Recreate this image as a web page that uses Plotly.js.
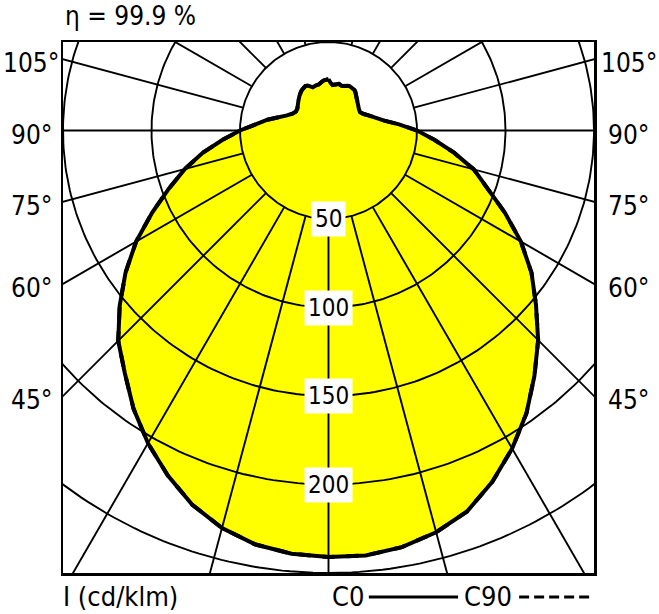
<!DOCTYPE html>
<html><head><meta charset="utf-8">
<script src="https://cdn.plot.ly/plotly-3.0.1.min.js"></script>
<style>html,body{margin:0;padding:0;background:#fff;}</style>
</head><body>
<div id="chart" style="width:659px;height:614px"></div>
<script>
// gamma angles (deg from nadir)
const gammaDeg = [0,5,10,15,20,25,30,35,40,45,50,55,60,65,70,75,80,85,90,95,100,105,110,115,120,125,130,135,140,
  142.5,145,147.5,150,152.5,155,157.5,160,162.5,165,167.5,170,172.5,175,177.5,180];
// C0 half-plane (right side), cd/klm
const c0Values = [241,241,239,235,229,219,207.5,195,181,167.5,153,140,125.5,110,96,85,72,60,50,40,32,28,24.5,22,20.6,21,22,23,24.5,
  25.5,26.5,27.2,27.5,27.6,27.8,27.3,26.6,26.3,26.5,27,26.5,25.8,25.8,27,29];
// C180 half-plane (left side)
const c180Values = [241,240,237.5,232.5,225,215,204,192,179,168,154,140,125.5,110,96,84,72,60,50,41,35,29,25,22.5,21.3,21.5,22.5,24,25.5,
  26.5,27,27.5,28,28.3,28,27,26,26.3,26.5,26.5,27,27.8,28.5,28.8,29];
// C90 / C270 planes (coincide with C0 / C180 for this luminaire)
const c90Values = c0Values;
const c270Values = c180Values;

const ringValues = [50,100,150,200,250];
const ringLabels = ['50','100','150','200'];
const spokeAngles = [0,15,30,45,60,75,90,105,120,135,150,165,180];
const angleLabels = [45,60,75,90,105];
const efficiencyText = 'η = 99.9 %';
const unitText = 'I (cd/klm)';

const rad = d => d*Math.PI/180;
function profile(rightVals, leftVals){
  const xs=[], ys=[];
  for(let i=gammaDeg.length-1;i>=0;i--){ xs.push(-leftVals[i]*Math.sin(rad(gammaDeg[i]))); ys.push(-leftVals[i]*Math.cos(rad(gammaDeg[i]))); }
  for(let i=0;i<gammaDeg.length;i++){ xs.push(rightVals[i]*Math.sin(rad(gammaDeg[i]))); ys.push(-rightVals[i]*Math.cos(rad(gammaDeg[i]))); }
  return {xs, ys};
}
const traces = [];
const p0 = profile(c0Values, c180Values);
const p90 = profile(c90Values, c270Values);
traces.push({type:'scatter', mode:'lines', x:p0.xs, y:p0.ys, fill:'toself', fillcolor:'#ffff00', line:{width:0, color:'rgba(0,0,0,0)'}, hoverinfo:'skip', showlegend:false});
// rings
const gridLine = {color:'#000', width:1.9};
ringValues.forEach(r=>{
  const xs=[], ys=[];
  for(let a=0;a<=360;a+=1){ xs.push(r*Math.sin(rad(a))); ys.push(-r*Math.cos(rad(a))); }
  traces.push({type:'scatter', mode:'lines', x:xs, y:ys, line:gridLine, hoverinfo:'skip', showlegend:false});
});
// spokes
const inner = ringValues[0], outer = 500;
spokeAngles.forEach(g=>{
  [1,-1].forEach(s=>{
    if((g===0||g===180) && s===-1) return;
    traces.push({type:'scatter', mode:'lines',
      x:[s*inner*Math.sin(rad(g)), s*outer*Math.sin(rad(g))],
      y:[-inner*Math.cos(rad(g)), -outer*Math.cos(rad(g))],
      line:gridLine, hoverinfo:'skip', showlegend:false});
  });
});
traces.push({type:'scatter', mode:'lines', x:p90.xs, y:p90.ys, line:{color:'#000', width:4, dash:'dash'}, name:'C90', showlegend:false, hoverinfo:'skip'});
traces.push({type:'scatter', mode:'lines', x:p0.xs, y:p0.ys, line:{color:'#000', width:4}, name:'C0', showlegend:false, hoverinfo:'skip'});

const FONT = '"DejaVu Sans Condensed", "Liberation Sans Narrow", Arial, sans-serif';
const annotations = [];
ringLabels.forEach((t,i)=>{
  annotations.push({x:0, y:-ringValues[i], xref:'x', yref:'y', text:t, showarrow:false,
    font:{family:FONT, size:24, color:'#000'}, bgcolor:'#fff', borderpad:3, xanchor:'center', yanchor:'middle'});
});
angleLabels.forEach(g=>{
  const yv = (g===90) ? 0 : -150/Math.tan(rad(g));
  [-0.06, 1.065].forEach(px=>{
    annotations.push({x:px, y:yv, xref:'paper', yref:'y', text:g+'°', showarrow:false,
      font:{family:FONT, size:26, color:'#000'}, xanchor:'center', yanchor:'middle', yshift:-4});
  });
});
annotations.push({x:0, y:1.049, xref:'paper', yref:'paper', text:efficiencyText, showarrow:false, font:{family:FONT, size:26, color:'#000'}, xanchor:'left', yanchor:'middle'});
annotations.push({x:-0.004, y:-0.045, xref:'paper', yref:'paper', text:unitText, showarrow:false, font:{family:FONT, size:27, color:'#000'}, xanchor:'left', yanchor:'middle'});
annotations.push({x:0.503, y:-0.045, xref:'paper', yref:'paper', text:'C0', showarrow:false, font:{family:FONT, size:27, color:'#000'}, xanchor:'left', yanchor:'middle'});
annotations.push({x:0.751, y:-0.045, xref:'paper', yref:'paper', text:'C90', showarrow:false, font:{family:FONT, size:27, color:'#000'}, xanchor:'left', yanchor:'middle'});

const shapes = [
  {type:'line', xref:'paper', yref:'paper', x0:0.576, x1:0.744, y0:-0.045, y1:-0.045, line:{color:'#000', width:3}},
  {type:'line', xref:'paper', yref:'paper', x0:0.859, x1:0.998, y0:-0.045, y1:-0.045, line:{color:'#000', width:3, dash:'10px,5px'}}
];

const axisCommon = {showgrid:false, zeroline:false, showticklabels:false, ticks:'', showline:true, mirror:true, linecolor:'#000', linewidth:2.5, fixedrange:true};
const layout = {
  width:659, height:614,
  margin:{l:63, r:65, t:42, b:41},
  paper_bgcolor:'#fff', plot_bgcolor:'#fff',
  xaxis:Object.assign({range:[-150,150]}, axisCommon),
  yaxis:Object.assign({range:[-250,50]}, axisCommon),
  annotations, shapes, showlegend:false
};
Plotly.newPlot('chart', traces, layout, {staticPlot:true, displayModeBar:false});
</script>
</body></html>
